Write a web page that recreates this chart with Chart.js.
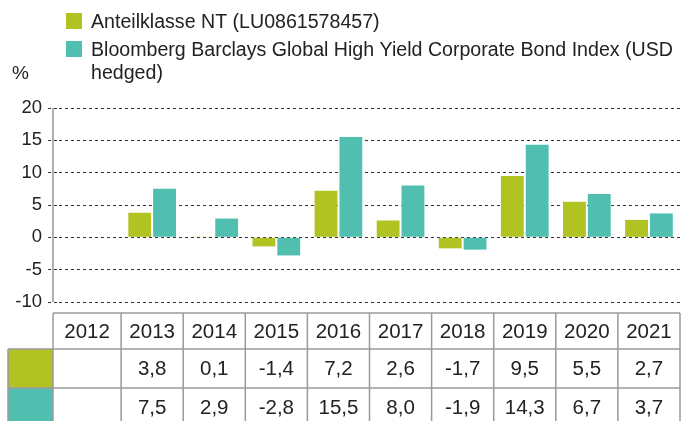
<!DOCTYPE html>
<html>
<head>
<meta charset="utf-8">
<script src="https://cdn.jsdelivr.net/npm/chart.js@4.4.0/dist/chart.umd.min.js"></script>
<style>
  html, body { margin: 0; padding: 0; background: #ffffff; }
  #wrap { width: 681px; height: 421px; position: relative; }
</style>
</head>
<body>
<div id="wrap"><canvas id="c" width="681" height="421"></canvas></div>
<script>
// ---- data ----
const years = ['2012', '2013', '2014', '2015', '2016', '2017', '2018', '2019', '2020', '2021'];
const fundValues = [null, 3.8, 0.1, -1.4, 7.2, 2.6, -1.7, 9.5, 5.5, 2.7];
const indexValues = [null, 7.5, 2.9, -2.8, 15.5, 8.0, -1.9, 14.3, 6.7, 3.7];
const seriesLabels = ['Anteilklasse NT (LU0861578457)', 'Bloomberg Barclays Global High Yield Corporate Bond Index (USD hedged)'];
const seriesColors = ['#b0c323', '#50bfb0'];
const yTickValues = [20, 15, 10, 5, 0, -5, -10];
const unitLabel = '%';

const FONT = '"Liberation Sans", Arial, sans-serif';
const TEXT = '#222222';
const TABLE_LINE = '#9a9a9a';

function fmt(v) {
  if (v === null || v === undefined) return '';
  return v.toFixed(1).replace('.', ',');
}

function wrapText(ctx, text, maxW) {
  const words = text.split(' ');
  const lines = [];
  let cur = '';
  for (const w of words) {
    const test = cur ? cur + ' ' + w : w;
    if (ctx.measureText(test).width > maxW && cur) {
      lines.push(cur);
      cur = w;
    } else {
      cur = test;
    }
  }
  if (cur) lines.push(cur);
  return lines;
}

const extras = {
  id: 'extras',
  afterDraw(chart) {
    const ctx = chart.ctx;
    const area = chart.chartArea;
    const x = chart.scales.x;
    const y = chart.scales.y;
    const axisX = 53;
    ctx.save();

    // legend
    ctx.font = '19.6px ' + FONT;
    ctx.textBaseline = 'alphabetic';
    ctx.textAlign = 'left';
    let base = 28;
    chart.data.datasets.forEach((ds, i) => {
      ctx.fillStyle = ds.backgroundColor;
      ctx.fillRect(66, base - 15, 16, 16);
      ctx.fillStyle = TEXT;
      const lines = wrapText(ctx, ds.label, 681 - 91);
      lines.forEach((ln, j) => ctx.fillText(ln, 91, base + j * 23));
      base += 28 + (lines.length - 1) * 23;
    });

    // unit label
    ctx.font = '19px ' + FONT;
    ctx.fillText(unitLabel, 12, 79);

    // y axis line
    ctx.strokeStyle = '#b0b0b0';
    ctx.lineWidth = 2;
    ctx.beginPath();
    ctx.moveTo(axisX, y.getPixelForValue(yTickValues[0]));
    ctx.lineTo(axisX, y.getPixelForValue(yTickValues[yTickValues.length - 1]));
    ctx.stroke();

    // table
    const rowTops = [313, 349, 388, 427];
    const n = years.length;
    const bounds = [];
    for (let i = 0; i <= n; i++) {
      if (i === 0) bounds.push(axisX);
      else if (i === n) bounds.push(area.right);
      else bounds.push((x.getPixelForValue(i - 1) + x.getPixelForValue(i)) / 2);
    }
    // colour cells
    chart.data.datasets.forEach((ds, r) => {
      ctx.fillStyle = ds.backgroundColor;
      ctx.fillRect(8, rowTops[r + 1], axisX - 8, rowTops[r + 2] - rowTops[r + 1]);
    });
    ctx.strokeStyle = TABLE_LINE;
    ctx.lineWidth = 1.5;
    ctx.beginPath();
    ctx.moveTo(axisX, rowTops[0]); ctx.lineTo(area.right, rowTops[0]);
    for (let r = 1; r < rowTops.length; r++) {
      ctx.moveTo(8, rowTops[r]); ctx.lineTo(area.right, rowTops[r]);
    }
    bounds.forEach(bx => { ctx.moveTo(bx, rowTops[0]); ctx.lineTo(bx, rowTops[3]); });
    ctx.moveTo(8, rowTops[1]); ctx.lineTo(8, rowTops[3]);
    ctx.stroke();

    // texts
    ctx.fillStyle = TEXT;
    ctx.font = '20.5px ' + FONT;
    ctx.textAlign = 'center';
    ctx.textBaseline = 'middle';
    for (let i = 0; i < n; i++) {
      const cx = (bounds[i] + bounds[i + 1]) / 2;
      ctx.fillText(chart.data.labels[i], cx, (rowTops[0] + rowTops[1]) / 2 + 1);
      chart.data.datasets.forEach((ds, r) => {
        ctx.fillText(fmt(ds.data[i]), cx, (rowTops[r + 1] + rowTops[r + 2]) / 2 + 1);
      });
    }
    ctx.restore();
  }
};

new Chart(document.getElementById('c'), {
  type: 'bar',
  data: {
    labels: years,
    datasets: [
      { label: seriesLabels[0], data: fundValues, backgroundColor: seriesColors[0] },
      { label: seriesLabels[1], data: indexValues, backgroundColor: seriesColors[1] }
    ]
  },
  options: {
    responsive: false,
    animation: false,
    devicePixelRatio: 1,
    layout: { padding: { top: 108, bottom: 119, left: 0, right: 1 } },
    datasets: { bar: { categoryPercentage: 0.8, barPercentage: 0.92 } },
    plugins: { legend: { display: false }, tooltip: { enabled: false } },
    scales: {
      x: { display: false },
      y: {
        min: -10, max: 20,
        afterBuildTicks: s => { s.ticks = yTickValues.map(v => ({ value: v })); },
        afterFit: s => { s.width = 59; },
        border: { display: false, dash: [3, 3] },
        grid: {
          color: '#333333', lineWidth: 1,
          tickLength: 11, tickBorderDash: [3, 3], tickColor: '#333333'
        },
        ticks: { color: TEXT, padding: 6, font: { family: FONT, size: 18.5 } }
      }
    }
  },
  plugins: [extras]
});
</script>
</body>
</html>
